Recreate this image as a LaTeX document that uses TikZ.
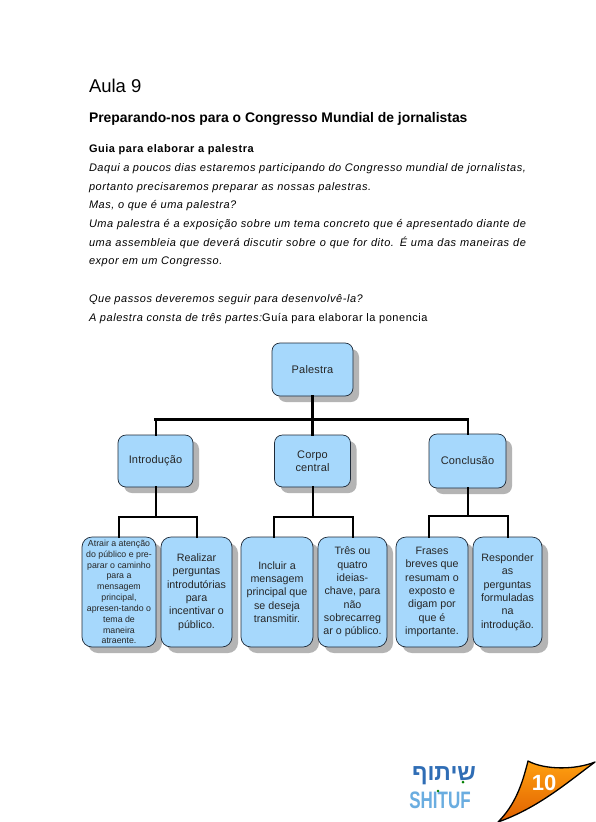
\documentclass[tikz,border=0pt]{standalone}
\usepackage{fontspec}
\setmainfont{Liberation Sans}
\newfontfamily\bodyf[LetterSpace=5]{Liberation Sans}
\newfontfamily\boxf[LetterSpace=1.5]{Liberation Sans}
\newfontfamily\hebfont[Script=Hebrew]{Liberation Sans}
\TeXXeTstate=1
\usetikzlibrary{shadows}
\definecolor{boxblue}{HTML}{A6D8FC}
\definecolor{boxshadow}{HTML}{B4B4B4}
\definecolor{boxedge}{HTML}{1E2A38}
\definecolor{logodark}{HTML}{2F6DB5}
\definecolor{logolight}{HTML}{6AADE0}
\definecolor{pagetop}{HTML}{FFA010}
\definecolor{pagebot}{HTML}{E06000}
\newcommand{\fs}[2]{\fontsize{#1}{#2}\selectfont}
\tikzset{
  x=1pt,y=-1pt,
  txt/.style={anchor=base west,inner sep=0pt,outer sep=0pt},
  body/.style={txt,font=\bodyf\fs{11}{13}\itshape},
  orgbox/.style={draw=boxedge,line width=0.7pt,fill=boxblue,rounded corners=8pt,inner sep=0pt,align=center,
    drop shadow={shadow xshift=6pt,shadow yshift=-6pt,fill=boxshadow,opacity=1}},
  topbox/.style={orgbox,font=\boxf\fs{11}{13},text=black!85},
  leaf/.style={orgbox,rounded corners=10pt,minimum height=110pt,font=\fs{10.7}{13.35},text=black!85},
  link/.style={draw=black,line width=2pt,line cap=rect},
  mainlink/.style={draw=black,line width=3pt,line cap=rect},
}
\begin{document}
\begin{tikzpicture}
\path[use as bounding box,fill=white] (0,0) rectangle (595,822);
% text
\node[txt,font=\fs{18.5}{20}] (t1) at (89,92) {Aula 9};
\node[txt,font=\fs{13.9}{15}\bfseries] (t2) at (89,122) {Preparando-nos para o Congresso Mundial de jornalistas};
\node[txt,font=\bodyf\fs{11}{13}\bfseries] (t3) at (89,152) {Guia para elaborar a palestra};
\node[body] (t4) at (89,171) {\makebox[437pt][s]{Daqui a poucos dias estaremos participando do Congresso mundial de jornalistas,}};
\node[body] (t5) at (89,190) {portanto precisaremos preparar as nossas palestras.};
\node[body] (t6) at (89,208) {Mas, o que é uma palestra?};
\node[body] (t7) at (89,227) {\makebox[437pt][s]{Uma palestra é a exposição sobre um tema concreto que é apresentado diante de}};
\node[body] (t8) at (89,246) {\makebox[437pt][s]{uma assembleia que deverá discutir sobre o que for dito. É uma das maneiras de}};
\node[body] (t9) at (89,264) {expor em um Congresso.};
\node[body] (t10) at (89,302) {Que passos deveremos seguir para desenvolvê-la?};
\node[body] (t11) at (89,321) {A palestra consta de três partes:\upshape Guía para elaborar la ponencia};
% boxes
\node[topbox,minimum width=81pt,minimum height=53pt] (pal) at (312.5,369.5) {Palestra};
\node[topbox,minimum width=75pt,minimum height=52pt] (int) at (155.5,461) {Introdução};
\node[topbox,minimum width=76pt,minimum height=52pt] (cor) at (312.5,461) {Corpo\\central};
\node[topbox,minimum width=77pt,minimum height=54pt] (con) at (467.5,461) {Conclusão};
\node[leaf,minimum width=74pt,font=\fs{8.8}{10.85}] (l1) at (119,592) {Atrair a atenção\\do público e pre-\\parar o caminho\\para a\\mensagem\\principal,\\apresen-tando o\\tema de\\maneira\\atraente.};
\node[leaf,minimum width=71pt] (l2) at (196.5,592) {Realizar\\perguntas\\introdutórias\\para\\incentivar o\\público.};
\node[leaf,minimum width=72pt] (l3) at (277,592) {Incluir a\\mensagem\\principal que\\se deseja\\transmitir.};
\node[leaf,minimum width=69pt] (l4) at (352.5,592) {Três ou\\quatro\\ideias-\\chave, para\\não\\sobrecarreg\\ar o público.};
\node[leaf,minimum width=72pt] (l5) at (432,592) {Frases\\breves que\\resumam o\\exposto e\\digam por\\que é\\importante.};
\node[leaf,minimum width=69pt] (l6) at (507.5,592) {Responder\\as\\perguntas\\formuladas\\na\\introdução.};
% connectors
\coordinate (busmain) at (312.5,419);
\coordinate (busint) at (155.5,517);
\coordinate (buscor) at (312.5,517);
\coordinate (buscon) at (467.5,516);
\draw[mainlink] (pal.south) -- (busmain);
\draw[mainlink] (int.north |- busmain) -- (con.north |- busmain);
\draw[link,line width=2.4pt] (busmain) -- (cor.north);
\draw[link] (int.north |- busmain) -- (int.north);
\draw[link] (con.north |- busmain) -- (con.north);
\draw[link] (int.south) -- (busint);
\draw[link] (cor.south) -- (buscor);
\draw[link] (con.south) -- (buscon);
\draw[link] (l1.north) |- (busint) -| (l2.north);
\draw[link] ([xshift=-3pt]l3.north) |- (buscor) -| (l4.north);
\draw[link] ([xshift=-3pt]l5.north) |- (buscon) -| (l6.north);
% logo
\node[font=\fs{23}{24}\bfseries\hebfont,text=logodark,anchor=center,inner sep=0pt] (heb) at (444,776) {\beginR שיתוף\endR};
\node[font=\fs{17}{18}\bfseries,text=logolight,anchor=base,inner sep=0pt] (shi) at (440,808) {\scalebox{1}[1.4]{SHITUF}};
\fill[green!50!black] (463,782) circle (1.5pt) (438,791) circle (1.3pt);
% page number
\shade[draw=black,line width=1.3pt,top color=pagetop,bottom color=pagebot,line join=round]
  (528,761) .. controls (545,770) and (575,770) .. (595,762)
  .. controls (568,782) and (538,808) .. (498,822)
  .. controls (515,805) and (522,785) .. (528,761) -- cycle;
\node[font=\fs{22}{24}\bfseries,text=white,inner sep=0pt] (pg) at (544,783) {10};
\end{tikzpicture}
\end{document}
